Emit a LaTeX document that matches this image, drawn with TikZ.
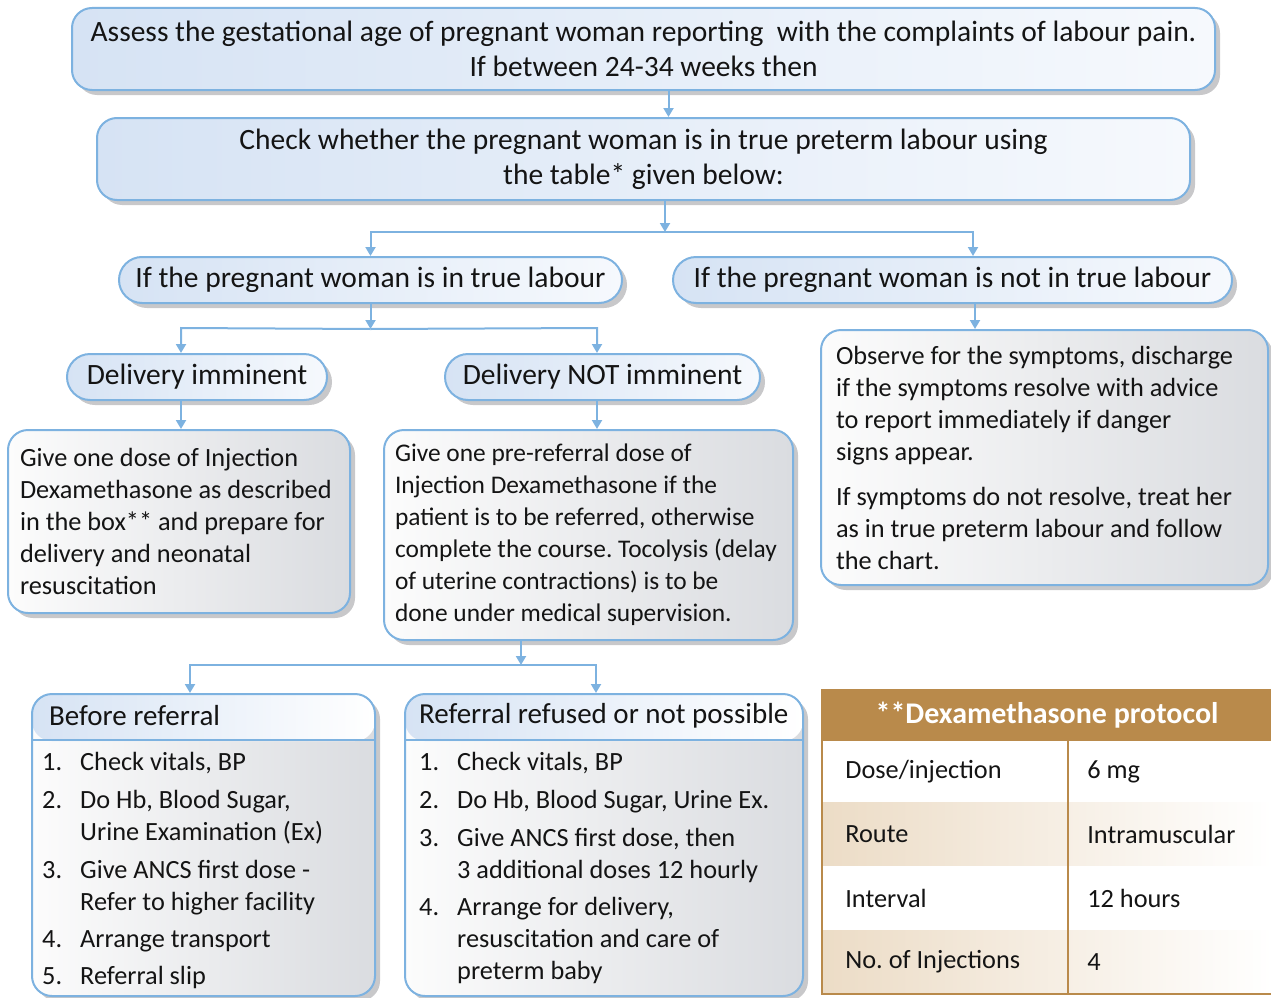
\documentclass[tikz,border=0pt]{standalone}
\usepackage{fontspec}
\setmainfont{Carlito}
\usetikzlibrary{arrows.meta,positioning,calc,shadows}
\definecolor{lineblue}{RGB}{125,178,224}
\definecolor{pillleft}{RGB}{214,227,244}
\definecolor{pillright}{RGB}{246,249,253}
\definecolor{boxleft}{RGB}{252,252,252}
\definecolor{boxright}{RGB}{218,220,224}
\definecolor{shadowgray}{RGB}{200,200,202}
\definecolor{tblbrown}{RGB}{185,138,75}
\definecolor{tbltan}{RGB}{236,220,198}
\definecolor{inkblack}{RGB}{20,20,20}
\frenchspacing

\begin{document}
\begin{tikzpicture}[x=1pt, y=-1pt, font=\fontsize{26.3}{32}\selectfont, text=inkblack,
    box/.style={draw=lineblue, line width=2pt, rounded corners=20pt, inner sep=0pt,
        left color=boxleft, right color=boxright,
        drop shadow={shadow xshift=5pt, shadow yshift=-5pt, fill=shadowgray, opacity=1}},
    bigbox/.style={box, left color=pillleft, right color=pillright, align=center, minimum height=82pt,
        font=\fontsize{29.5}{35}\selectfont},
    pill/.style={box, rounded corners=23pt, left color=pillleft, right color=pillright, minimum height=46pt,
        font=\fontsize{29.5}{35}\selectfont},
    textbox/.style={box, align=flush left},
    listbox/.style={box, minimum height=302pt,
        path picture={\shade[left color=pillleft, right color=white] (path picture bounding box.north west) rectangle ([yshift=-47pt]path picture bounding box.north east);}},
    listhead/.style={anchor=west, inner sep=0pt, font=\fontsize{29}{35}\selectfont},
    listtext/.style={anchor=north west, inner sep=0pt, align=left},
    conn/.style={draw=lineblue, line width=2pt, -{Triangle[length=9pt, width=10pt]}},
    tblrow/.style={minimum width=450pt, minimum height=64pt, inner sep=0pt},
    tblline/.style={draw=tblbrown, line width=2.2pt}]

\useasboundingbox (0,0) rectangle (1271,998);

% top of the chart
\node[bigbox, minimum width=1143pt] (top) at (643.5,49) {Assess the gestational age of pregnant woman reporting\ \ with the complaints of labour pain.\\If between 24-34 weeks then};
\node[bigbox, minimum width=1093pt] (check) at (643.5,159) {Check whether the pregnant woman is in true preterm labour using\\the table* given below:};

\node[pill, minimum width=503pt] (true) at (370.5,280) {If the pregnant woman is in true labour};
\node[pill, minimum width=559pt] (nottrue) at (952.5,280) {If the pregnant woman is not in true labour};

\node[pill, minimum width=260pt] (imm) at (197,377) {Delivery imminent};
\node[pill, minimum width=315pt] (notimm) at (602.5,377) {Delivery NOT imminent};

% action boxes
\node[textbox, minimum width=342pt, minimum height=183pt, text width=318pt] (give1) at (179,521.5) {Give one dose of Injection\\Dexamethasone as described\\in the box** and prepare for\\delivery and neonatal\\resuscitation};
\node[textbox, minimum width=409pt, minimum height=210pt, text width=387pt, font=\fontsize{25.4}{32}\selectfont] (give2) at (588.5,535) {Give one pre-referral dose of\\Injection Dexamethasone if the\\patient is to be referred, otherwise\\complete the course. Tocolysis (delay\\of uterine contractions) is to be\\done under medical supervision.};
\node[textbox, minimum width=447pt, minimum height=255pt, text width=417pt] (observe) at (1044.5,457.5) {Observe for the symptoms, discharge\\if the symptoms resolve with advice\\to report immediately if danger\\signs appear.\\[13pt]If symptoms do not resolve, treat her\\as in true preterm labour and follow\\the chart.};

% referral boxes
\node[listbox, minimum width=343pt] (before) at (203.5,845) {};
\draw[draw=lineblue, line width=2pt] ([yshift=-47pt]before.north west) -- ([yshift=-47pt]before.north east);
\node[listhead] (beforehead) at ($(before.north west)+(18,23)$) {Before referral};
\node[listtext] (beforelist) at ($(before.north west)+(11,59)$) {%
\makebox[38pt][l]{1.}Check vitals, BP\\[6pt]
\makebox[38pt][l]{2.}Do Hb, Blood Sugar,\\
\hspace*{38pt}Urine Examination (Ex)\\[6pt]
\makebox[38pt][l]{3.}Give ANCS first dose -\\
\hspace*{38pt}Refer to higher facility\\[5pt]
\makebox[38pt][l]{4.}Arrange transport\\[5pt]
\makebox[38pt][l]{5.}Referral slip};

\node[listbox, minimum width=398pt] (refused) at (604,845) {};
\draw[draw=lineblue, line width=2pt] ([yshift=-47pt]refused.north west) -- ([yshift=-47pt]refused.north east);
\node[listhead] (refusedhead) at ($(refused.north west)+(15,23)$) {Referral refused or not possible};
\node[listtext] (refusedlist) at ($(refused.north west)+(15,59)$) {%
\makebox[38pt][l]{1.}Check vitals, BP\\[6pt]
\makebox[38pt][l]{2.}Do Hb, Blood Sugar, Urine Ex.\\[6pt]
\makebox[38pt][l]{3.}Give ANCS first dose, then\\
\hspace*{38pt}3 additional doses 12 hourly\\[5pt]
\makebox[38pt][l]{4.}Arrange for delivery,\\
\hspace*{38pt}resuscitation and care of\\
\hspace*{38pt}preterm baby};

% protocol table
\node[tblrow, minimum height=51pt, fill=tblbrown, text=white, font=\fontsize{30}{35}\selectfont\bfseries] (thead) at (1047,715.5) {**Dexamethasone protocol};
\node[tblrow, minimum height=61pt, fill=white] (rowA) at (1047,771.5) {};
\node[tblrow, left color=tbltan, right color=white] (rowB) at (1047,834) {};
\node[tblrow, fill=white] (rowC) at (1047,898) {};
\node[tblrow, left color=tbltan, right color=white] (rowD) at (1047,962) {};
\node[anchor=west] at ([xshift=20pt]rowA.west) {Dose/injection};
\node[anchor=west] at ([xshift=262pt]rowA.west) {6 mg};
\node[anchor=west] at ([xshift=20pt]rowB.west) {Route};
\node[anchor=west] at ([xshift=262pt]rowB.west) {Intramuscular};
\node[anchor=west] at ([xshift=20pt]rowC.west) {Interval};
\node[anchor=west] at ([xshift=262pt]rowC.west) {12 hours};
\node[anchor=west] at ([xshift=20pt]rowD.west) {No. of Injections};
\node[anchor=west] at ([xshift=262pt]rowD.west) {4};
\draw[tblline, line width=1.6pt] ([xshift=246pt]thead.south west) -- ([xshift=246pt]rowD.south west);
\draw[tblline] (thead.north west) rectangle (rowD.south east);

% connectors
\coordinate (j1) at (665,232);
\coordinate (j1r) at (973,232);
\coordinate (j2) at ($(true.south)+(0,25)$);
\coordinate (j2l) at (181,328);
\coordinate (j2r) at (597,328);
\coordinate (j3) at (521,665);
\coordinate (j3l) at (190,665);
\coordinate (j3r) at (596,665);

\draw[conn] ([xshift=25pt]top.south) -- ([xshift=25pt]check.north);
\draw[conn] (check.south -| j1) -- (j1);
\draw[conn] (j1) -| (true.north);
\draw[conn] (j1) -- (j1r) -- (j1r |- nottrue.north);
\draw[conn] (true.south) -- (j2);
\draw[conn] (j2) -- (j2l) -- (j2l |- imm.north);
\draw[conn] (j2) -- (j2r) -- (j2r |- notimm.north);
\draw[conn] (imm.south -| j2l) -- (give1.north -| j2l);
\draw[conn] (notimm.south -| j2r) -- (give2.north -| j2r);
\draw[conn] (nottrue.south -| 975,0) -- (observe.north -| 975,0);
\draw[conn] (give2.south -| j3) -- (j3);
\draw[conn] (j3) -- (j3l) -- (j3l |- before.north);
\draw[conn] (j3) -- (j3r) -- (j3r |- refused.north);
\end{tikzpicture}
\end{document}
